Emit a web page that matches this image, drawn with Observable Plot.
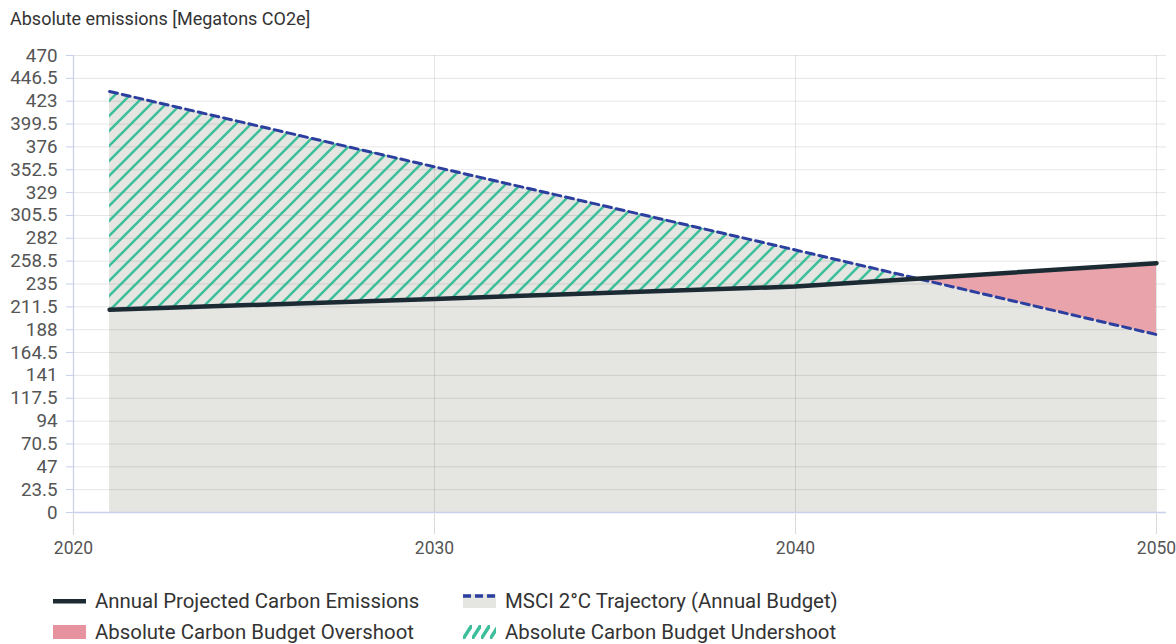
<!DOCTYPE html>
<html><head><meta charset="utf-8">
<script src="https://cdn.jsdelivr.net/npm/d3@7"></script>
<script src="https://cdn.jsdelivr.net/npm/@observablehq/plot@0.6"></script>
<style>
body{margin:0;background:#fff;font-family:Roboto,sans-serif;}
#wrap{position:relative;width:1176px;height:644px;overflow:hidden}
#title{position:absolute;left:10px;top:8px;font-size:18px;line-height:22px;color:#333;}
#chart{position:absolute;left:0;top:0}
.lt{position:absolute;font-size:20.4px;line-height:24px;color:#333;white-space:nowrap}
.sw{position:absolute}
</style></head><body>
<div id="wrap"><div id="chart"></div><div id="title">Absolute emissions [Megatons CO2e]</div><div id="legend"></div></div>
<script>
const years = [2021, 2030, 2040, 2050];
const emissions = [208.5, 219.7, 232.4, 256.4];
const trajectory = [433, 355.5, 270, 183];
const yTicks = [0, 23.5, 47, 70.5, 94, 117.5, 141, 164.5, 188, 211.5, 235, 258.5, 282, 305.5, 329, 352.5, 376, 399.5, 423, 446.5, 470];
const xTicks = [2020, 2030, 2040, 2050];
const legendLabels = ["Annual Projected Carbon Emissions", "MSCI 2°C Trajectory (Annual Budget)", "Absolute Carbon Budget Overshoot", "Absolute Carbon Budget Undershoot"];

const C = {gray:"#e5e5e1", pink:"#e8a3ab", pinkSw:"#e6939f", green:"#3dbf9b", navy:"#2c3f9e", dark:"#1b2a33", axis:"#c8d0ea"};

const rows = years.map((year, i) => ({year, e: emissions[i], t: trajectory[i]}));
const pts = [];
rows.forEach((r, i) => {
  if (i > 0) {
    const p = rows[i-1], d0 = p.t - p.e, d1 = r.t - r.e;
    if (d0 * d1 < 0) {
      const f = d0 / (d0 - d1);
      pts.push({year: p.year + f*(r.year-p.year), e: p.e + f*(r.e-p.e), t: p.t + f*(r.t-p.t)});
    }
  }
  pts.push({...r});
});

const plot = Plot.plot({
  width: 1176, height: 570,
  marginTop: 55, marginBottom: 58, marginLeft: 73, marginRight: 10,
  style: {fontFamily: "Roboto, sans-serif", overflow: "visible", background: "transparent"},
  x: {domain: [2020, 2050], insetRight: 10},
  y: {domain: [0, 470]},
  marks: [
    Plot.areaY(pts, {x: "year", y1: 0, y2: d => Math.max(d.e, d.t), fill: C.gray, curve: "linear"}),
    Plot.gridY(yTicks, {stroke: "#000", strokeOpacity: 0.1}),
    Plot.gridX(xTicks.slice(1), {stroke: "#000", strokeOpacity: 0.1}),
    Plot.areaY(pts, {x: "year", y1: "t", y2: d => Math.max(d.e, d.t), fill: C.pink}),
    Plot.areaY(pts, {x: "year", y1: "e", y2: d => Math.max(d.e, d.t), fill: "url(#hatch)"}),
    Plot.ruleY([0], {stroke: C.axis, strokeWidth: 1.5}),
    Plot.ruleX([2020], {y1: -23.5, y2: 470, stroke: C.axis, strokeWidth: 1.2, clip: false}),
    Plot.axisY(yTicks, {tickSize: 7, tickPadding: 9, stroke: C.axis, fill: "#555", fontSize: 18.8, label: null, tickFormat: d => String(d)}),
    Plot.axisX(xTicks, {tickSize: 22, tickPadding: 7, stroke: "#dadada", fill: "#555", fontSize: 17.5, label: null, tickFormat: d => String(d)}),
    Plot.lineY(rows, {x: "year", y: "t", stroke: C.navy, strokeWidth: 3, strokeDasharray: "8,5"}),
    Plot.lineY(rows, {x: "year", y: "e", stroke: C.dark, strokeWidth: 4.5, strokeLinecap: "round"})
  ]
});
const defs = `<defs><pattern id="hatch" patternUnits="userSpaceOnUse" width="15" height="15">
<path d="M-3,3 L3,-3 M0,15 L15,0 M12,18 L18,12" stroke="${C.green}" stroke-width="2.6"/></pattern></defs>`;
plot.insertAdjacentHTML("afterbegin", defs);
document.getElementById("chart").appendChild(plot);

const leg = document.getElementById("legend");
const items = [
  {x: 53, y: 601, sw: `<rect x="0" y="5" width="33" height="4.5" fill="${C.dark}"/>`},
  {x: 463, y: 601, sw: `<rect x="0" y="0" width="33" height="14" fill="${C.gray}"/><line x1="0" x2="33" y1="2" y2="2" stroke="${C.navy}" stroke-width="3.5" stroke-dasharray="8,4"/>`},
  {x: 53, y: 632, sw: `<rect x="0" y="0" width="33" height="14" fill="${C.pinkSw}"/>`},
  {x: 463, y: 632, sw: `<defs><pattern id="hatch2" patternUnits="userSpaceOnUse" width="9" height="14"><path d="M0,14 L9,0" stroke="${C.green}" stroke-width="3.5"/></pattern></defs><rect x="0" y="0" width="33" height="14" fill="url(#hatch2)"/>`}
];
items.forEach((it, i) => {
  leg.insertAdjacentHTML("beforeend",
    `<svg class="sw" style="left:${it.x}px;top:${it.y-7}px" width="33" height="14">${it.sw}</svg>` +
    `<div class="lt" style="left:${it.x+42}px;top:${it.y-12}px">${legendLabels[i]}</div>`);
});
</script>
</body></html>
